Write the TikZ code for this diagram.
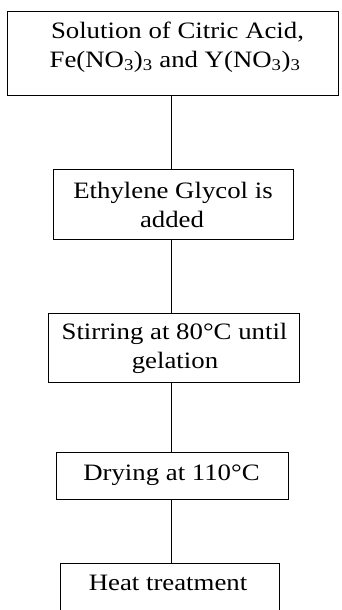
\documentclass[tikz,border=0pt]{standalone}
\usepackage{fontspec}
\setmainfont{Liberation Serif}[FakeStretch=1.14]
\begin{document}
\begin{tikzpicture}[x=1pt,y=-1pt,
  box/.style={draw, line width=1pt, inner sep=0pt, rectangle},
  txt/.style={inner sep=0pt, anchor=base, font=\fontsize{23.5}{28}\selectfont},
  link/.style={draw, line width=1pt}]
\clip (0,0) rectangle (342,610);
% boxes
\node[box, minimum width=331pt, minimum height=83pt] (b1) at (172.5,53.5) {};
\node[box, minimum width=240pt, minimum height=70pt] (b2) at (173,204) {};
\node[box, minimum width=251pt, minimum height=69pt] (b3) at (173.5,347.5) {};
\node[box, minimum width=232pt, minimum height=47pt] (b4) at (172,475.5) {};
\node[box, minimum width=219pt, minimum height=48pt] (b5) at (169.5,587) {};
% texts
\node[txt] (t1a) at (177.5,39) {Solution of Citric Acid,};
\node[txt] (t1b) at (175,67) {Fe(NO\textsubscript{3})\textsubscript{3} and Y(NO\textsubscript{3})\textsubscript{3}};
\node[txt] (t2a) at (173,198) {Ethylene Glycol is};
\node[txt] (t2b) at (172,227) {added};
\node[txt] (t3a) at (174.5,339) {Stirring at 80°C until};
\node[txt] (t3b) at (175,368) {gelation};
\node[txt] (t4) at (171.5,480) {Drying at 110°C};
\node[txt] (t5) at (168,590) {Heat treatment};
% connectors
\coordinate (ax) at (171,0);
\path[link] (b1.south -| ax) -- (b2.north -| ax);
\path[link] (b2.south -| ax) -- (b3.north -| ax);
\path[link] (b3.south -| ax) -- (b4.north -| ax);
\path[link] (b4.south -| ax) -- (b5.north -| ax);
\end{tikzpicture}
\end{document}
